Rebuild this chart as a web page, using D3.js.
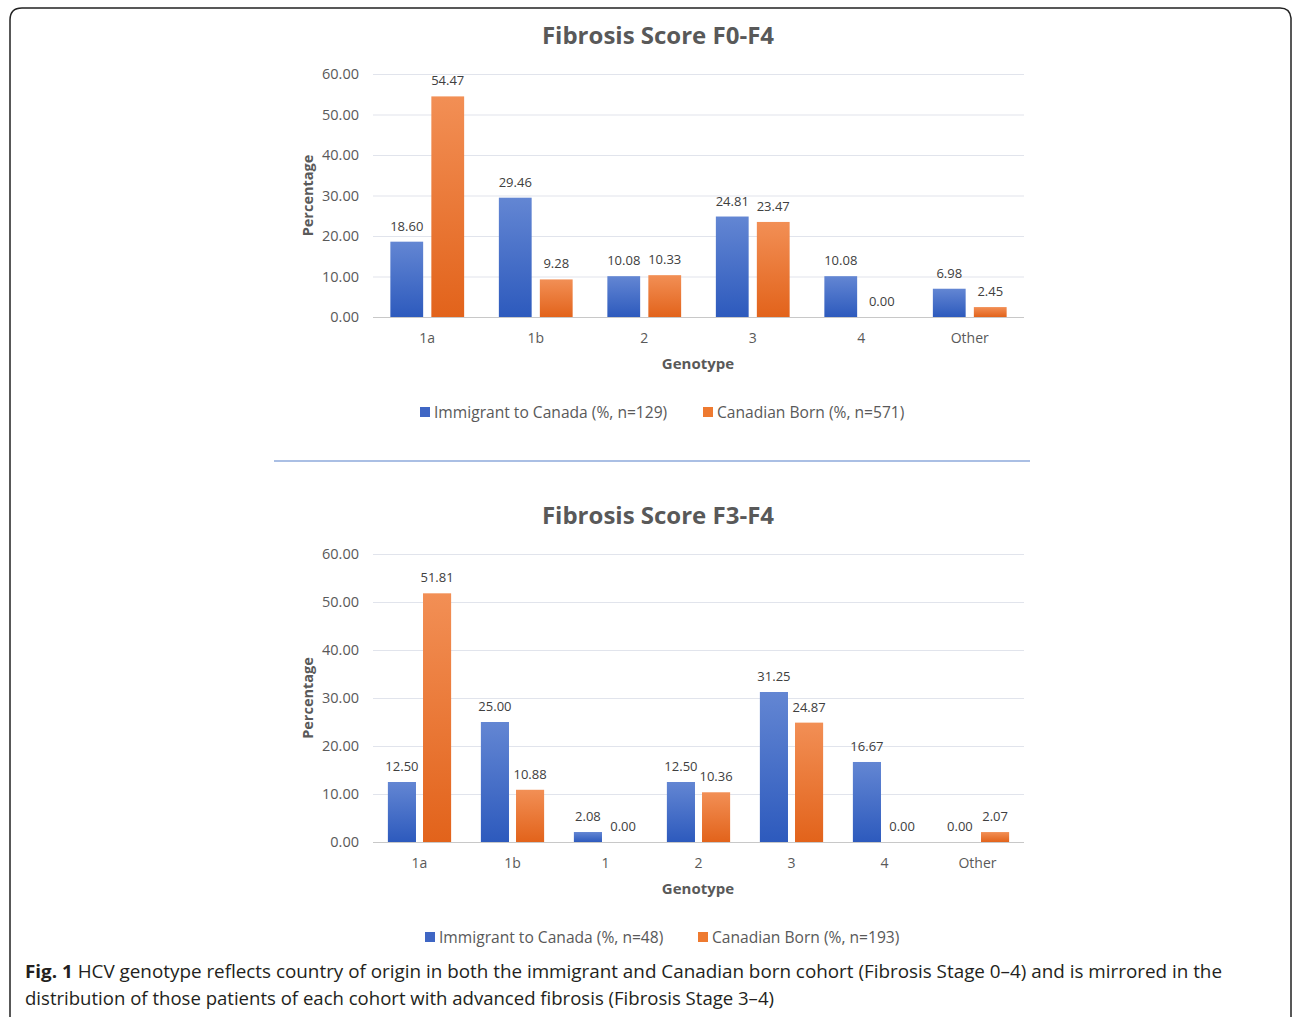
<!DOCTYPE html>
<html>
<head>
<meta charset="utf-8">
<script src="https://cdn.jsdelivr.net/npm/d3@7"></script>
<style>
  body { margin: 0; background: #fff; }
  svg text { font-family: "Open Sans", "DejaVu Sans", sans-serif; }
</style>
</head>
<body>
<div id="fig"></div>
<script>
// ---- data ----
var series_names = ['immigrant', 'canadian'];

var top_title = 'Fibrosis Score F0-F4';
var top_genotypes = ['1a', '1b', '2', '3', '4', 'Other'];
var top_immigrant = [18.60, 29.46, 10.08, 24.81, 10.08, 6.98];
var top_canadian = [54.47, 9.28, 10.33, 23.47, 0.00, 2.45];
var top_legend = ['Immigrant to Canada (%, n=129)', 'Canadian Born (%, n=571)'];

var bottom_title = 'Fibrosis Score F3-F4';
var bottom_genotypes = ['1a', '1b', '1', '2', '3', '4', 'Other'];
var bottom_immigrant = [12.50, 25.00, 2.08, 12.50, 31.25, 16.67, 0.00];
var bottom_canadian = [51.81, 10.88, 0.00, 10.36, 24.87, 0.00, 2.07];
var bottom_legend = ['Immigrant to Canada (%, n=48)', 'Canadian Born (%, n=193)'];

var y_ticks = [0, 10, 20, 30, 40, 50, 60];

var caption_bold = 'Fig. 1';
var caption_line1 = ' HCV genotype reflects country of origin in both the immigrant and Canadian born cohort (Fibrosis Stage 0\u20134) and is mirrored in the';
var caption_line2 = 'distribution of those patients of each cohort with advanced fibrosis (Fibrosis Stage 3\u20134)';

// ---- drawing ----
var W = 1292, H = 1017;
var svg = d3.select('#fig').append('svg').attr('width', W).attr('height', H);

var defs = svg.append('defs');
function add_gradient(id, top, bottom) {
    var g = defs.append('linearGradient').attr('id', id)
        .attr('x1', 0).attr('y1', 0).attr('x2', 0).attr('y2', 1);
    g.append('stop').attr('offset', '0%').attr('stop-color', top);
    g.append('stop').attr('offset', '100%').attr('stop-color', bottom);
}
add_gradient('grad_blue', '#6386d3', '#2d5abd');
add_gradient('grad_orange', '#f28f55', '#e2631b');
var fills = { immigrant: 'url(#grad_blue)', canadian: 'url(#grad_orange)' };
var legend_colors = { immigrant: '#3f66c4', canadian: '#ee7a30' };

// frame with rounded top corners, open at the bottom
svg.append('path')
    .attr('d', 'M10,1017 L10,20 Q10,8 22,8 L1280,8 Q1290,8 1291,18 L1291,1017')
    .attr('fill', 'none').attr('stroke', '#222').attr('stroke-width', 1.5);

function draw_chart(cfg) {
    var g = svg.append('g');
    var rows = cfg.genotypes.map(function (d, i) {
        return { genotype: d, immigrant: cfg.immigrant[i], canadian: cfg.canadian[i] };
    });

    var y = d3.scaleLinear().domain([0, 60]).range([cfg.bottom, cfg.top]);
    var x0 = d3.scaleBand().domain(cfg.genotypes).range([373, 1024]).padding(0);
    var bw = x0.bandwidth();
    var x1 = d3.scaleBand().domain(series_names).range([bw * 0.16, bw * 0.84]).paddingInner(0.2);

    // title
    g.append('text').attr('x', 658).attr('y', cfg.top - 30)
        .attr('text-anchor', 'middle').attr('font-size', 24).attr('font-weight', 'bold')
        .attr('fill', '#595959').text(cfg.title);

    // gridlines + y labels
    var y_axis = g.append('g').attr('transform', 'translate(373,0)')
        .call(d3.axisLeft(y).tickValues(y_ticks).tickSize(-651).tickPadding(14)
            .tickFormat(function (d) { return d.toFixed(2); }));
    y_axis.select('.domain').remove();
    y_axis.selectAll('.tick line').attr('stroke', function (d) { return d === 0 ? '#c8c8c8' : '#e1e4ec'; })
        .attr('stroke-width', 1.2);
    y_axis.selectAll('.tick text').attr('font-size', 14.5).attr('fill', '#595959')
        .style('font-family', '"Open Sans", sans-serif');

    // x labels
    var x_axis = g.append('g').attr('transform', 'translate(0,' + cfg.bottom + ')')
        .call(d3.axisBottom(x0).tickSize(0).tickPadding(16));
    x_axis.select('.domain').remove();
    x_axis.selectAll('.tick text').attr('font-size', 14).attr('fill', '#595959')
        .style('font-family', '"Open Sans", sans-serif');

    // bars
    var groups = g.selectAll('.grp').data(rows).enter().append('g')
        .attr('transform', function (d) { return 'translate(' + x0(d.genotype) + ',0)'; });
    series_names.forEach(function (s) {
        groups.append('rect')
            .attr('x', x1(s)).attr('width', x1.bandwidth())
            .attr('y', function (d) { return y(d[s]); })
            .attr('height', function (d) { return cfg.bottom - y(d[s]); })
            .attr('fill', fills[s]);
        groups.append('text')
            .attr('x', x1(s) + x1.bandwidth() / 2)
            .attr('y', function (d) { return y(d[s]) - 11; })
            .attr('text-anchor', 'middle').attr('font-size', 13).attr('fill', '#404040')
            .text(function (d) { return d[s].toFixed(2); });
    });

    // axis titles
    g.append('text').attr('x', 698).attr('y', cfg.bottom + 52)
        .attr('text-anchor', 'middle').attr('font-size', 15).attr('font-weight', 'bold')
        .attr('fill', '#595959').text('Genotype');
    g.append('text')
        .attr('transform', 'translate(313,' + (cfg.top + cfg.bottom) / 2 + ') rotate(-90)')
        .attr('text-anchor', 'middle').attr('font-size', 14.5).attr('font-weight', 'bold')
        .attr('fill', '#595959').text('Percentage');

    // legend
    series_names.forEach(function (s, i) {
        var lx = cfg.legend_x[i];
        g.append('rect').attr('x', lx).attr('y', cfg.legend_y - 5).attr('width', 10).attr('height', 10)
            .attr('fill', legend_colors[s]);
        g.append('text').attr('x', lx + 14).attr('y', cfg.legend_y + 5.5)
            .attr('font-size', 15.6).attr('fill', '#595959').text(cfg.legend[i]);
    });
}

draw_chart({
    title: top_title, genotypes: top_genotypes, immigrant: top_immigrant, canadian: top_canadian,
    legend: top_legend, top: 74, bottom: 317, legend_y: 412, legend_x: [420, 703]
});

// separator
svg.append('line').attr('x1', 274).attr('x2', 1030).attr('y1', 461).attr('y2', 461)
    .attr('stroke', '#8eaadb').attr('stroke-width', 1.5);

draw_chart({
    title: bottom_title, genotypes: bottom_genotypes, immigrant: bottom_immigrant, canadian: bottom_canadian,
    legend: bottom_legend, top: 554, bottom: 842, legend_y: 937, legend_x: [425, 698]
});

// caption
var cap1 = svg.append('text').attr('x', 25).attr('y', 978).attr('font-size', 18).attr('fill', '#231f20')
    .attr('textLength', 1197).attr('lengthAdjust', 'spacingAndGlyphs');
cap1.append('tspan').attr('font-weight', 'bold').text(caption_bold);
cap1.append('tspan').text(caption_line1);
svg.append('text').attr('x', 25).attr('y', 1005).attr('font-size', 18).attr('fill', '#231f20')
    .attr('textLength', 749).attr('lengthAdjust', 'spacingAndGlyphs').text(caption_line2);
</script>
</body>
</html>
